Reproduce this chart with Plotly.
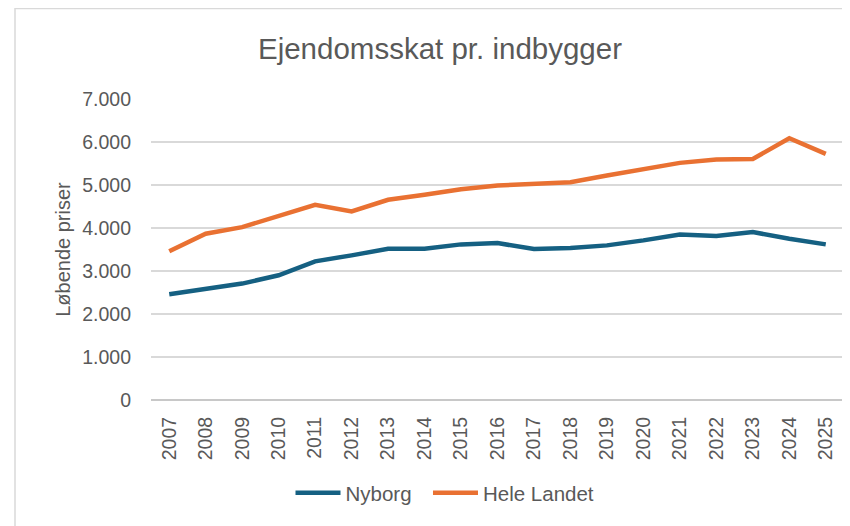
import plotly.graph_objects as go

years = [str(y) for y in range(2007, 2026)]
nyborg = [2459, 2591, 2707, 2900, 3225, 3364, 3519, 3519, 3619, 3650, 3511, 3534,
          3596, 3712, 3851, 3812, 3905, 3752, 3619]
hele_landet = [3457, 3868, 4021, 4292, 4540, 4385, 4656, 4772, 4903, 4988, 5027, 5066,
               5220, 5360, 5515, 5592, 5607, 6086, 5723]
y_ticks = [0, 1000, 2000, 3000, 4000, 5000, 6000, 7000]

W, H = 850, 526
OFF = 8  # page body margin offset
ml, mr, mt, mb = 151 - OFF, W - (844 - OFF), 99 - OFF, H - (400 - OFF)
pw, ph = W - ml - mr, H - mt - mb


def px_x(p):
    return (p - OFF - ml) / pw


def px_y(p):
    return (H - mb - (p - OFF)) / ph


fig = go.Figure()
fig.add_trace(go.Scatter(x=years, y=nyborg, name="Nyborg\u00a0\u00a0", mode="lines",
                         line=dict(color="#156082", width=4.5)))
fig.add_trace(go.Scatter(x=years, y=hele_landet, name="Hele Landet", mode="lines",
                         line=dict(color="#E97132", width=4.5)))

fig.update_layout(
    width=W, height=H,
    margin=dict(l=ml, r=mr, t=mt, b=mb),
    paper_bgcolor="white", plot_bgcolor="white",
    separators=",.",
    font=dict(family="Liberation Sans, Arial, sans-serif", color="#595959"),
    title=dict(text="Ejendomsskat pr. indbygger", x=(440 - OFF) / W, xanchor="center",
               y=1 - (49 - OFF) / H, yanchor="middle",
               font=dict(size=29.5, color="#595959")),
    xaxis=dict(type="category", range=[-0.5, 18.5], tickangle=-90, showgrid=False, ticks="",
               tickfont=dict(size=19.5, color="#595959"), showline=False, zeroline=False,
               ticklabelstandoff=12),
    yaxis=dict(range=[0, 7000], tickvals=y_ticks, tickformat=",d", showgrid=True,
               gridcolor="#d9d9d9", gridwidth=1.5, zeroline=True, zerolinecolor="#c8c8c8",
               zerolinewidth=1.5, ticks="", ticklabelstandoff=19,
               tickfont=dict(size=19.5, color="#595959"),
               title=dict(text="Løbende priser", standoff=6,
                          font=dict(size=20, color="#595959"))),
    legend=dict(orientation="h", x=px_x(445), xanchor="center", y=px_y(493), yanchor="middle",
                font=dict(size=20.5, color="#595959"), itemwidth=45),
    shapes=[dict(type="rect", xref="paper", yref="paper",
                 x0=px_x(15), x1=px_x(870), y0=px_y(540), y1=px_y(8.5),
                 line=dict(color="#d9d9d9", width=1.5), fillcolor="rgba(0,0,0,0)", layer="below")],
)

fig.write_html("out.html")
